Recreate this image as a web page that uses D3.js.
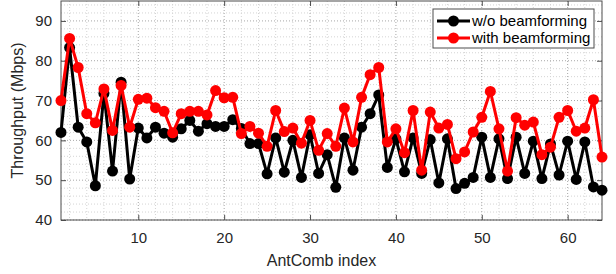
<!DOCTYPE html>
<html>
<head>
<meta charset="utf-8">
<script src="https://cdn.jsdelivr.net/npm/d3@7"></script>
<style>
  body { margin: 0; background: #fff; }
  text { font-family: "Liberation Sans", Arial, sans-serif; }
</style>
</head>
<body>
<div id="chart"></div>
<script>
// data
var antIndex = d3.range(1, 65)
var withoutBf = [62, 83.3, 63.3, 59.6, 48.6, 71.8, 52.3, 74.6, 50.3, 63.1,
                 60.6, 63.3, 61.8, 60.8, 62.9, 65, 62.3, 64.2, 63.5, 63.5,
                 65.2, 63, 59.2, 59.2, 51.6, 60.6, 52, 60, 50.7, 61.4,
                 51.7, 56.4, 48.2, 60.6, 52.5, 63.3, 66.7, 71.4, 53.2, 60.4,
                 52.1, 60.6, 51.7, 60.2, 49.3, 60.4, 47.9, 49.2, 50.7, 60.8,
                 50.7, 60.4, 50.4, 60.8, 51.7, 59.8, 50.4, 59.1, 51.3, 59.8,
                 50.2, 59.6, 48.3, 47.5]
var withBf = [70, 85.6, 78.3, 66.7, 64.4, 72.9, 62.5, 73.8, 63.3, 70.3,
              70.6, 68.2, 67.3, 61.9, 66.7, 67.3, 67.3, 66.4, 72.5, 70.7,
              70.8, 61.7, 63.5, 61.8, 58.5, 67.5, 62.2, 63.1, 59.3, 65,
              57.5, 61.7, 58.5, 68.1, 59.6, 70.8, 76.5, 78.3, 59.6, 62.9,
              56.9, 67.5, 52.5, 67.1, 63.1, 64, 55.4, 57.1, 62.1, 65.8,
              72.3, 62.9, 52.3, 65.7, 63.8, 64.6, 56.4, 58.3, 65.8, 67.5,
              62.3, 63.1, 70.2, 55.8]
var seriesNames = ["w/o beamforming", "with beamforming"]
var seriesColors = ["#000000", "#ff0000"]
var yTicks = [40, 50, 60, 70, 80, 90]
var xTicks = [10, 20, 30, 40, 50, 60]

var W = 616, H = 274
var margin = {top: 1, right: 14, bottom: 54, left: 61}
var width = W - margin.left - margin.right
var height = H - margin.top - margin.bottom

var svg = d3.select("#chart").append("svg")
    .attr("width", W).attr("height", H)
  .append("g")
    .attr("transform", "translate(" + margin.left + "," + margin.top + ")")

var x = d3.scaleLinear().domain([1, 64]).range([0, width])
var y = d3.scaleLinear().domain([40, 95]).range([height, 0])

// minor grid
var minorX = d3.range(2, 64, 2).filter(function(d) { return d % 10 != 0 })
var minorY = d3.range(42, 95, 2).filter(function(d) { return d % 10 != 0 })
svg.append("g").selectAll("line").data(minorX).enter().append("line")
    .attr("x1", x).attr("x2", x).attr("y1", 0).attr("y2", height)
    .attr("stroke", "#d4d4d4").attr("stroke-width", 1).attr("stroke-dasharray", "1,2")
svg.append("g").selectAll("line").data(minorY).enter().append("line")
    .attr("y1", y).attr("y2", y).attr("x1", 0).attr("x2", width)
    .attr("stroke", "#d4d4d4").attr("stroke-width", 1).attr("stroke-dasharray", "1,2")
// major grid
svg.append("g").selectAll("line").data(xTicks).enter().append("line")
    .attr("x1", x).attr("x2", x).attr("y1", 0).attr("y2", height)
    .attr("stroke", "#a8a8a8").attr("stroke-width", 1).attr("stroke-dasharray", "1,2")
svg.append("g").selectAll("line").data(yTicks).enter().append("line")
    .attr("y1", y).attr("y2", y).attr("x1", 0).attr("x2", width)
    .attr("stroke", "#a8a8a8").attr("stroke-width", 1).attr("stroke-dasharray", "1,2")

// axes
var axisColor = "#4d4d4d"
var styleAxis = function(g) {
    g.select(".domain").remove()
    g.selectAll(".tick line").attr("stroke", axisColor)
    g.selectAll(".tick text").attr("fill", "#262626").style("font-size", "15px")
}
svg.append("g").attr("transform", "translate(0," + height + ")")
    .call(d3.axisBottom(x).tickValues(xTicks).tickSize(-5).tickPadding(12))
    .call(styleAxis)
svg.append("g").call(d3.axisTop(x).tickValues(xTicks).tickSize(-5).tickFormat(""))
    .call(styleAxis)
svg.append("g")
    .call(d3.axisLeft(y).tickValues(yTicks).tickSize(-5).tickPadding(9))
    .call(styleAxis)
svg.append("g").attr("transform", "translate(" + width + ",0)")
    .call(d3.axisRight(y).tickValues(yTicks).tickSize(-5).tickFormat(""))
    .call(styleAxis)
svg.append("rect").attr("width", width).attr("height", height)
    .attr("fill", "none").attr("stroke", axisColor).attr("stroke-width", 1)

// labels
svg.append("text").attr("x", width / 2 - 10).attr("y", height + 46)
    .attr("text-anchor", "middle").attr("fill", "#262626").style("font-size", "16px")
    .text("AntComb index")
svg.append("text").attr("transform", "translate(-38," + (height / 2) + ") rotate(-90)")
    .attr("text-anchor", "middle").attr("fill", "#262626").style("font-size", "16px")
    .text("Throughput (Mbps)")

// series
var allSeries = [withoutBf, withBf]
var line = d3.line().x(function(d) { return x(d[0]) }).y(function(d) { return y(d[1]) })
allSeries.forEach(function(vals, i) {
    var pts = antIndex.map(function(k, j) { return [k, vals[j]] })
    var g = svg.append("g")
    g.append("path").datum(pts).attr("d", line)
        .attr("fill", "none").attr("stroke", seriesColors[i]).attr("stroke-width", 3)
    g.selectAll("circle").data(pts).enter().append("circle")
        .attr("cx", function(d) { return x(d[0]) })
        .attr("cy", function(d) { return y(d[1]) })
        .attr("r", 5.5).attr("fill", seriesColors[i])
})

// legend
var lg = svg.append("g").attr("transform", "translate(" + (433 - margin.left) + "," + (9 - margin.top) + ")")
lg.append("rect").attr("width", 161).attr("height", 39)
    .attr("fill", "#fff").attr("stroke", axisColor).attr("stroke-width", 1)
seriesNames.forEach(function(name, i) {
    var ly = 12 + i * 17
    lg.append("line").attr("x1", 4).attr("x2", 37).attr("y1", ly).attr("y2", ly)
        .attr("stroke", seriesColors[i]).attr("stroke-width", 3)
    lg.append("circle").attr("cx", 20.5).attr("cy", ly).attr("r", 5.5).attr("fill", seriesColors[i])
    lg.append("text").attr("x", 39).attr("y", ly + 5)
        .attr("fill", "#000").style("font-size", "15px").text(name)
})
</script>
</body>
</html>
